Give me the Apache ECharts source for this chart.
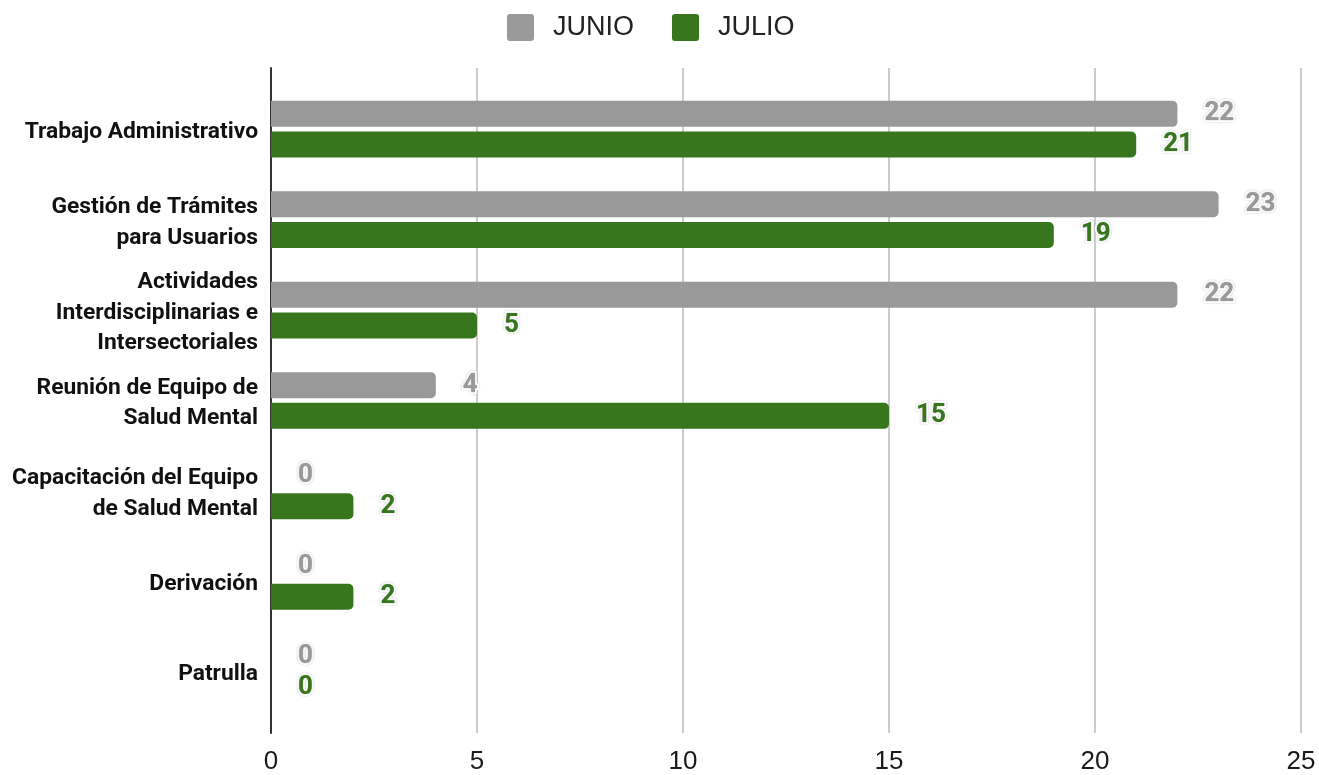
<!DOCTYPE html>
<html>
<head>
<meta charset="utf-8">
<script src="https://cdn.jsdelivr.net/npm/echarts@6/dist/echarts.min.js"></script>
<style>
  html, body { margin: 0; padding: 0; background: #fff; }
  #chart { width: 1319px; height: 775px; }
</style>
</head>
<body>
<div id="chart"></div>
<script>
// Activity categories, top to bottom
const categories = [
  'Trabajo Administrativo',
  'Gestión de Trámites\npara Usuarios',
  'Actividades\nInterdisciplinarias e\nIntersectoriales',
  'Reunión de Equipo de\nSalud Mental',
  'Capacitación del Equipo\nde Salud Mental',
  'Derivación',
  'Patrulla'
];
const junio = [22, 23, 22, 4, 0, 0, 0];
const julio = [21, 19, 5, 15, 2, 2, 0];
const xTicks = [0, 5, 10, 15, 20, 25];

const GRAY = '#999999';
const GREEN = '#38761d';

// small-radius square used as legend marker
const SQUARE = 'path://M3,0H25A3,3 0 0 1 28,3V25A3,3 0 0 1 25,28H3A3,3 0 0 1 0,25V3A3,3 0 0 1 3,0Z';

const chart = echarts.init(document.getElementById('chart'), null, { renderer: 'canvas' });

function labelStyle(color) {
  return {
    show: true,
    position: 'right',
    distance: 27,
    color: color,
    fontFamily: 'Roboto',
    fontWeight: 'bold',
    fontSize: 26,
    textBorderColor: '#fff',
    textBorderWidth: 4,
    textShadowColor: 'rgba(0,0,0,0.3)',
    textShadowBlur: 1.5
  };
}

chart.setOption({
  animation: false,
  legend: {
    top: 9,
    left: 502,
    itemWidth: 27,
    itemHeight: 27,
    itemGap: 38,
    icon: SQUARE,
    textStyle: { fontFamily: 'Liberation Sans', fontSize: 27, color: '#222', padding: [0, 0, 0, 14] },
    data: ['JUNIO', 'JULIO']
  },
  grid: [
    // frame: gridlines, tick labels and the vertical axis line
    { left: 271, right: 18, top: 68, bottom: 42, containLabel: false },
    // bars
    { left: 271, right: 18, top: 84, bottom: 58, containLabel: false },
    // category names, sitting slightly lower than the bar bands
    { left: 271, right: 18, top: 87, bottom: 55, containLabel: false }
  ],
  xAxis: [
    {
      gridIndex: 0, type: 'value', min: 0, max: 25, interval: 5,
      axisLine: { show: false }, axisTick: { show: false },
      splitLine: { show: true, lineStyle: { color: '#cccccc', width: 2 } },
      axisLabel: {
        margin: 16, fontFamily: 'Liberation Sans', fontSize: 26, color: '#1a1a1a',
        formatter: v => (xTicks.indexOf(v) >= 0 ? String(v) : '')
      }
    },
    {
      gridIndex: 1, type: 'value', min: 0, max: 25, interval: 5, show: false,
      splitLine: { show: false }
    },
    {
      gridIndex: 2, type: 'value', min: 0, max: 25, interval: 5, show: false,
      splitLine: { show: false }
    }
  ],
  yAxis: [
    {
      gridIndex: 0, type: 'category', data: [''], inverse: true,
      axisLine: { show: true, lineStyle: { color: '#333', width: 2 } },
      axisTick: { show: false }, axisLabel: { show: false }, splitLine: { show: false }
    },
    {
      gridIndex: 1, type: 'category', data: categories, inverse: true,
      axisLine: { show: false }, axisTick: { show: false }, axisLabel: { show: false }
    },
    {
      gridIndex: 2, type: 'category', data: categories, inverse: true,
      axisLine: { show: false }, axisTick: { show: false },
      axisLabel: {
        margin: 13, fontFamily: 'Roboto', fontWeight: 'bold', fontSize: 22.8,
        color: '#111', lineHeight: 30.5, align: 'right'
      }
    }
  ],
  series: [
    {
      name: 'JUNIO', type: 'bar', xAxisIndex: 1, yAxisIndex: 1,
      data: junio, barWidth: 26, barGap: '18%',
      itemStyle: { color: GRAY, borderRadius: [0, 5, 5, 0] },
      label: labelStyle(GRAY)
    },
    {
      name: 'JULIO', type: 'bar', xAxisIndex: 1, yAxisIndex: 1,
      data: julio, barWidth: 26, barGap: '18%',
      itemStyle: { color: GREEN, borderRadius: [0, 5, 5, 0] },
      label: labelStyle(GREEN)
    }
  ]
});
</script>
</body>
</html>
